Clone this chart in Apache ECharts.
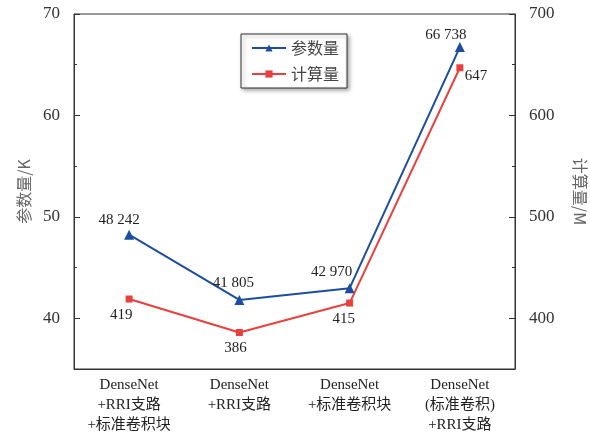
<!DOCTYPE html>
<html><head><meta charset="utf-8">
<script src="https://cdn.jsdelivr.net/npm/echarts@6/dist/echarts.min.js"></script>
<style>html,body{margin:0;padding:0;background:#fff}#c{width:590px;height:434px}</style>
</head><body><div id="c"></div>
<script>
var categories = ['DenseNet\n+RRI支路\n+标准卷积块', 'DenseNet\n+RRI支路', 'DenseNet\n+标准卷积块', 'DenseNet\n(标准卷积)\n+RRI支路'];
var params = [48.242, 41.805, 42.970, 66.738];
var paramLabels = ['48 242', '41 805', '42 970', '66 738'];
var flops = [419, 386, 415, 647];
var flopLabels = ['419', '386', '415', '647'];

var serif = 'Liberation Serif, Noto Sans CJK SC, serif';
var blue = '#1d4da0', red = '#e8403f';
var paramOffsets = [[-10, 2], [-6, 0], [-18, 0], [-14, 4]];
var flopOffsets = [[-8, 0], [-4, 0], [-6, 0], [16, -8]];

function minorAxis(min, max, interval, pos, name, gap, rot, step) {
  return {
    type: 'value', min: min, max: max, interval: interval, position: pos,
    name: name, nameLocation: 'middle', nameGap: gap, nameRotate: rot,
    nameTextStyle: { fontFamily: 'Noto Sans CJK SC', fontSize: 16, color: '#666' },
    axisLine: { show: true, lineStyle: { color: '#333' } },
    axisTick: { show: true, inside: true, length: 3, lineStyle: { color: '#333' } },
    splitLine: { show: false },
    axisLabel: { fontFamily: serif, fontSize: 17, color: '#333', margin: 14,
      formatter: function (v) { return (Math.round(v) % step === 0) ? v : ''; } }
  };
}
function majorAxis(min, max, pos) {
  return {
    type: 'value', min: min, max: max, splitNumber: 4, position: pos,
    axisLine: { show: false },
    axisTick: { show: true, inside: true, length: 6, lineStyle: { color: '#333' } },
    splitLine: { show: false },
    axisLabel: { show: false }
  };
}

var chart = echarts.init(document.getElementById('c'));
chart.setOption({
  animation: false,
  grid: { left: 74, right: 75, top: 14, bottom: 65, show: true, borderColor: '#333', borderWidth: 1,
    containLabel: false, outerBoundsMode: 'none' },
  legend: {
    orient: 'vertical', left: 241, top: 34,
    data: ['参数量', '计算量'],
    borderColor: '#333', borderWidth: 1, backgroundColor: '#fff',
    shadowColor: 'rgba(0,0,0,0.35)', shadowBlur: 4, shadowOffsetX: 2, shadowOffsetY: 2,
    padding: [6, 8, 6, 10], itemGap: 10, itemWidth: 34, itemHeight: 9,
    textStyle: { fontFamily: 'Noto Sans CJK SC', fontSize: 16, color: '#444' }
  },
  xAxis: [{
    type: 'category', data: categories, boundaryGap: true,
    axisLine: { lineStyle: { color: '#333' } },
    axisTick: { inside: true, alignWithLabel: true, length: 6, lineStyle: { color: '#333' } },
    axisLabel: { fontFamily: serif, fontSize: 15, color: '#222', lineHeight: 20, margin: 6, interval: 0 }
  }, {
    type: 'category', data: categories, boundaryGap: true, position: 'bottom',
    axisLine: { show: false },
    axisTick: { inside: true, length: 3, lineStyle: { color: '#333' } },
    axisLabel: { show: false }
  }],
  yAxis: [
    minorAxis(35, 70, 5, 'left', '参数量/K', 39, 90, 10),
    minorAxis(350, 700, 50, 'right', '计算量/M', 57, -90, 100),
    majorAxis(35, 70, 'left'),
    majorAxis(350, 700, 'right')
  ],
  series: [{
    name: '参数量', type: 'line', yAxisIndex: 0,
    data: params.map(function (v, i) {
      return { value: v, label: { offset: paramOffsets[i] } };
    }),
    symbol: 'triangle', symbolSize: 10,
    itemStyle: { color: blue }, lineStyle: { color: blue, width: 2 },
    label: { show: true, position: 'top', distance: 4, fontFamily: serif, fontSize: 15, color: '#222',
      formatter: function (p) { return paramLabels[p.dataIndex]; } }
  }, {
    name: '计算量', type: 'line', yAxisIndex: 1,
    data: flops.map(function (v, i) {
      return { value: v, label: { offset: flopOffsets[i] } };
    }),
    symbol: 'rect', symbolSize: 7,
    itemStyle: { color: red }, lineStyle: { color: red, width: 2 },
    label: { show: true, position: 'bottom', distance: 5, fontFamily: serif, fontSize: 15, color: '#222',
      formatter: function (p) { return flopLabels[p.dataIndex]; } }
  }]
});
</script></body></html>
